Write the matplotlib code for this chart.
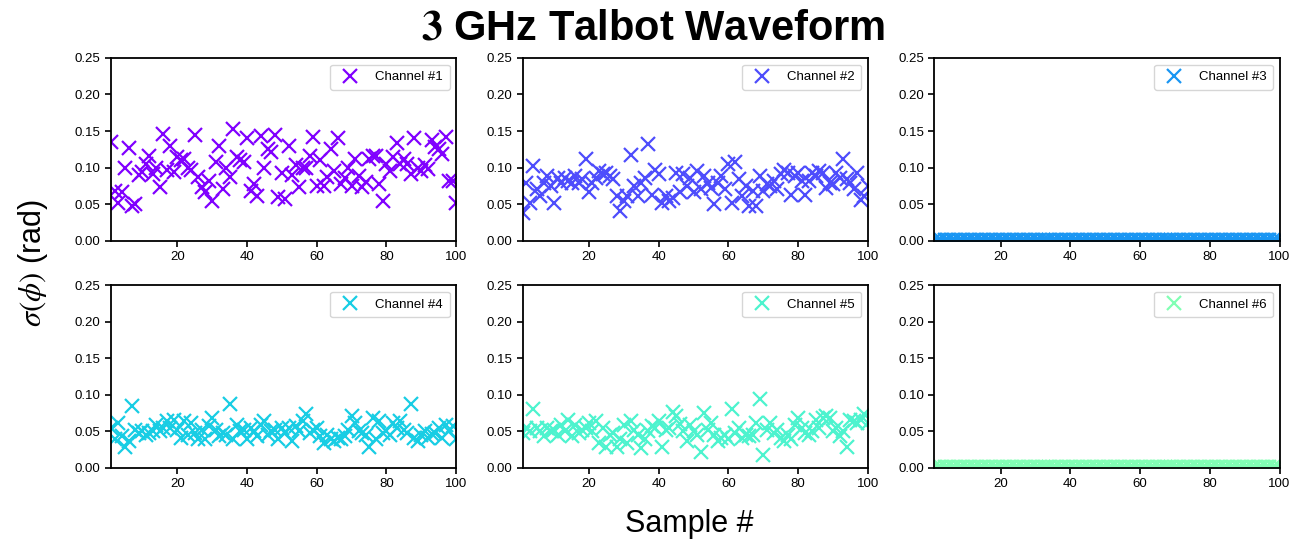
import matplotlib
matplotlib.use('Agg')
import matplotlib.pyplot as plt
import numpy as np

plt.rcParams['font.family'] = ['Liberation Sans', 'DejaVu Sans']
plt.rcParams['mathtext.fontset'] = 'stix'

samples = np.arange(1, 101)

ch1 = [0.135, 0.068, 0.052, 0.066, 0.100, 0.127, 0.047, 0.050, 0.090, 0.094,
       0.105, 0.116, 0.091, 0.100, 0.073, 0.146, 0.096, 0.130, 0.094, 0.114,
       0.110, 0.112, 0.100, 0.096, 0.144, 0.087, 0.073, 0.066, 0.082, 0.054,
       0.107, 0.130, 0.070, 0.100, 0.087, 0.153, 0.114, 0.110, 0.107, 0.140,
       0.068, 0.077, 0.061, 0.143, 0.100, 0.126, 0.121, 0.145, 0.059, 0.093,
       0.057, 0.130, 0.090, 0.103, 0.073, 0.099, 0.100, 0.116, 0.142, 0.075,
       0.110, 0.075, 0.087, 0.126, 0.095, 0.140, 0.077, 0.085, 0.099, 0.075,
       0.112, 0.089, 0.073, 0.080, 0.112, 0.116, 0.116, 0.077, 0.054, 0.105,
       0.095, 0.114, 0.133, 0.105, 0.112, 0.105, 0.091, 0.140, 0.099, 0.095,
       0.103, 0.098, 0.137, 0.128, 0.126, 0.119, 0.142, 0.082, 0.082, 0.052]

ch2 = [0.038, 0.079, 0.052, 0.102, 0.070, 0.061, 0.079, 0.089, 0.075, 0.052,
       0.085, 0.079, 0.086, 0.082, 0.079, 0.089, 0.079, 0.084, 0.111, 0.066,
       0.079, 0.086, 0.095, 0.091, 0.093, 0.089, 0.084, 0.061, 0.040, 0.054,
       0.061, 0.117, 0.075, 0.061, 0.079, 0.086, 0.132, 0.063, 0.097, 0.091,
       0.052, 0.061, 0.054, 0.058, 0.093, 0.066, 0.091, 0.075, 0.085, 0.066,
       0.095, 0.070, 0.089, 0.079, 0.072, 0.050, 0.079, 0.089, 0.070, 0.105,
       0.052, 0.107, 0.084, 0.061, 0.075, 0.047, 0.068, 0.047, 0.089, 0.068,
       0.077, 0.075, 0.082, 0.070, 0.091, 0.097, 0.093, 0.063, 0.089, 0.093,
       0.082, 0.063, 0.082, 0.093, 0.088, 0.095, 0.093, 0.072, 0.079, 0.077,
       0.093, 0.086, 0.111, 0.084, 0.079, 0.070, 0.093, 0.056, 0.061, 0.075]

ch3 = [0.0006, 0.0008, 0.0005, 0.0007, 0.0006, 0.0009, 0.0005, 0.0007, 0.0006, 0.0008,
       0.0007, 0.0005, 0.0006, 0.0008, 0.0007, 0.0006, 0.0005, 0.0009, 0.0006, 0.0007,
       0.0008, 0.0006, 0.0005, 0.0007, 0.0006, 0.0008, 0.0007, 0.0006, 0.0005, 0.0007,
       0.0006, 0.0008, 0.0007, 0.0005, 0.0006, 0.0009, 0.0007, 0.0006, 0.0008, 0.0005,
       0.0007, 0.0006, 0.0008, 0.0006, 0.0005, 0.0007, 0.0006, 0.0009, 0.0007, 0.0006,
       0.0005, 0.0008, 0.0006, 0.0007, 0.0006, 0.0005, 0.0008, 0.0007, 0.0006, 0.0007,
       0.0009, 0.0006, 0.0005, 0.0007, 0.0008, 0.0006, 0.0007, 0.0005, 0.0006, 0.0008,
       0.0007, 0.0006, 0.0009, 0.0005, 0.0007, 0.0006, 0.0008, 0.0006, 0.0007, 0.0005,
       0.0006, 0.0008, 0.0007, 0.0006, 0.0005, 0.0009, 0.0007, 0.0006, 0.0008, 0.0006,
       0.0005, 0.0007, 0.0006, 0.0008, 0.0007, 0.0005, 0.0006, 0.0009, 0.0007, 0.0006]

ch4 = [0.055, 0.039, 0.061, 0.043, 0.029, 0.036, 0.084, 0.052, 0.048, 0.050,
       0.045, 0.048, 0.050, 0.059, 0.050, 0.055, 0.064, 0.055, 0.066, 0.052,
       0.041, 0.064, 0.045, 0.061, 0.048, 0.039, 0.052, 0.039, 0.057, 0.068,
       0.052, 0.043, 0.048, 0.045, 0.087, 0.039, 0.059, 0.050, 0.052, 0.039,
       0.055, 0.050, 0.043, 0.059, 0.064, 0.045, 0.050, 0.052, 0.039, 0.055,
       0.048, 0.055, 0.036, 0.057, 0.050, 0.064, 0.073, 0.048, 0.052, 0.055,
       0.043, 0.034, 0.045, 0.040, 0.036, 0.041, 0.039, 0.043, 0.052, 0.071,
       0.061, 0.050, 0.048, 0.045, 0.029, 0.068, 0.039, 0.064, 0.048, 0.050,
       0.045, 0.061, 0.055, 0.064, 0.052, 0.048, 0.087, 0.041, 0.036, 0.045,
       0.050, 0.041, 0.046, 0.048, 0.055, 0.041, 0.059, 0.050, 0.057, 0.039]

ch5 = [0.048, 0.055, 0.050, 0.081, 0.055, 0.050, 0.043, 0.055, 0.050, 0.052,
       0.045, 0.059, 0.050, 0.066, 0.043, 0.059, 0.048, 0.052, 0.055, 0.061,
       0.050, 0.064, 0.034, 0.055, 0.029, 0.045, 0.048, 0.029, 0.039, 0.059,
       0.034, 0.064, 0.052, 0.045, 0.027, 0.039, 0.050, 0.057, 0.055, 0.064,
       0.029, 0.052, 0.055, 0.077, 0.071, 0.060, 0.050, 0.036, 0.059, 0.050,
       0.045, 0.022, 0.075, 0.052, 0.061, 0.045, 0.036, 0.041, 0.045, 0.039,
       0.080, 0.048, 0.055, 0.041, 0.045, 0.043, 0.045, 0.061, 0.094, 0.018,
       0.052, 0.061, 0.048, 0.052, 0.041, 0.036, 0.045, 0.040, 0.059, 0.068,
       0.055, 0.048, 0.045, 0.050, 0.066, 0.055, 0.068, 0.071, 0.068, 0.050,
       0.055, 0.043, 0.050, 0.029, 0.066, 0.064, 0.061, 0.066, 0.073, 0.061]

ch6 = [0.0007, 0.0006, 0.0008, 0.0005, 0.0007, 0.0006, 0.0009, 0.0006, 0.0005, 0.0007,
       0.0008, 0.0006, 0.0007, 0.0005, 0.0006, 0.0008, 0.0007, 0.0006, 0.0009, 0.0005,
       0.0007, 0.0006, 0.0008, 0.0006, 0.0007, 0.0005, 0.0006, 0.0008, 0.0007, 0.0006,
       0.0005, 0.0007, 0.0009, 0.0006, 0.0007, 0.0005, 0.0008, 0.0006, 0.0007, 0.0006,
       0.0005, 0.0008, 0.0007, 0.0006, 0.0009, 0.0005, 0.0007, 0.0006, 0.0008, 0.0007,
       0.0006, 0.0005, 0.0007, 0.0008, 0.0006, 0.0007, 0.0005, 0.0006, 0.0009, 0.0007,
       0.0006, 0.0008, 0.0005, 0.0007, 0.0006, 0.0008, 0.0007, 0.0006, 0.0005, 0.0009,
       0.0007, 0.0006, 0.0008, 0.0006, 0.0005, 0.0007, 0.0006, 0.0008, 0.0007, 0.0005,
       0.0006, 0.0009, 0.0007, 0.0006, 0.0008, 0.0005, 0.0007, 0.0006, 0.0008, 0.0007,
       0.0006, 0.0005, 0.0007, 0.0009, 0.0006, 0.0007, 0.0008, 0.0005, 0.0006, 0.0007]

channels = [ch1, ch2, ch3, ch4, ch5, ch6]
labels = ['Channel #1', 'Channel #2', 'Channel #3', 'Channel #4', 'Channel #5', 'Channel #6']
colors = plt.cm.rainbow(np.linspace(0, 0.5, 6))

fig, axes = plt.subplots(2, 3, figsize=(13.07, 5.42), dpi=100)
plt.subplots_adjust(left=0.085, right=0.979, top=0.893, bottom=0.137, wspace=0.193, hspace=0.245)

for i, ax in enumerate(axes.flat):
    ax.plot(samples, channels[i], marker='x', linestyle='None', color=colors[i],
            markersize=10, markeredgewidth=1.6, label=labels[i])
    ax.set_xlim(1, 100)
    ax.set_ylim(0, 0.25)
    ax.set_xticks([20, 40, 60, 80, 100])
    ax.set_yticks([0, 0.05, 0.10, 0.15, 0.20, 0.25])
    ax.set_yticklabels(['0.00', '0.05', '0.10', '0.15', '0.20', '0.25'])
    ax.tick_params(labelsize=9.5, width=1.2, length=4)
    for s in ax.spines.values():
        s.set_linewidth(1.3)
    ax.legend(loc='upper right', fontsize=9.5, handletextpad=0.9, borderpad=0.5)

fig.suptitle(r'$\mathbf{3}$ GHz Talbot Waveform', fontsize=30, fontweight='bold', y=0.985)
fig.supylabel(r'$\sigma(\phi)$ (rad)', fontsize=22, x=0.012, y=0.515)
fig.supxlabel('Sample #', fontsize=22, x=0.527, y=0.005)

plt.savefig('out.png', dpi=100, facecolor='white')
